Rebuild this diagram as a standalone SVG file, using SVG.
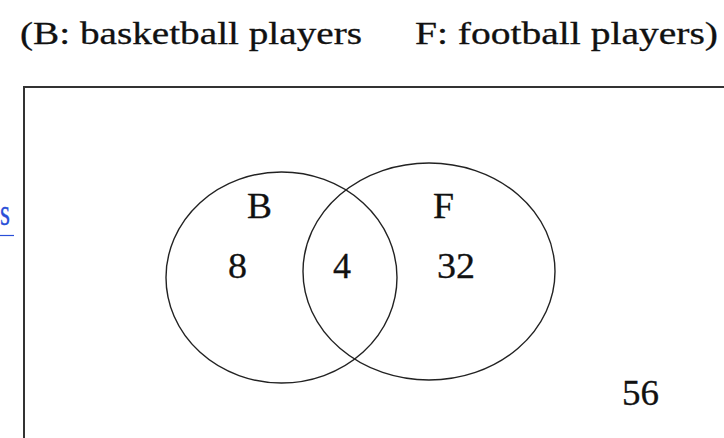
<svg xmlns="http://www.w3.org/2000/svg" width="724" height="438" viewBox="0 0 724 438">
<style>
text{fill:#111;stroke:#111;stroke-width:0.3}
.t{font-size:32px}
.n{font-size:36px}
.c{fill:none;stroke:#222;stroke-width:1.4}
</style>
<rect width="724" height="438" fill="#fff"/>
<g font-family="'Liberation Serif', 'Times New Roman', Times, serif">
<g id="title">
<text class="t" x="20" y="44" textLength="342" lengthAdjust="spacingAndGlyphs">(B: basketball players</text>
<text class="t" x="415" y="44" textLength="303" lengthAdjust="spacingAndGlyphs">F: football players)</text>
</g>
<g id="link">
<text x="0" y="225" textLength="10" lengthAdjust="spacingAndGlyphs" style="font-size:38px;fill:#2a4fd8;stroke:#2a4fd8">s</text>
<line x1="0" y1="235.5" x2="14" y2="235.5" stroke="#2a4fd8" stroke-width="1.2"/>
</g>
<g id="universe">
<rect x="24" y="87" width="760" height="420" fill="none" stroke="#333" stroke-width="2"/>
<text class="n" x="622" y="405" textLength="37" lengthAdjust="spacingAndGlyphs">56</text>
</g>
<g id="setB">
<ellipse class="c" cx="281.5" cy="277.5" rx="115.5" ry="105.5"/>
<text class="n" x="247" y="218" textLength="25" lengthAdjust="spacingAndGlyphs">B</text>
<text class="n" x="228" y="278" textLength="19" lengthAdjust="spacingAndGlyphs">8</text>
</g>
<g id="setF">
<ellipse class="c" cx="429" cy="271.5" rx="126" ry="108.5"/>
<text class="n" x="433" y="218" textLength="21" lengthAdjust="spacingAndGlyphs">F</text>
<text class="n" x="437" y="278" textLength="38" lengthAdjust="spacingAndGlyphs">32</text>
</g>
<g id="intersection">
<text class="n" x="333" y="278" textLength="18" lengthAdjust="spacingAndGlyphs">4</text>
</g>
</g>
<g id="connectors"></g>
</svg>
